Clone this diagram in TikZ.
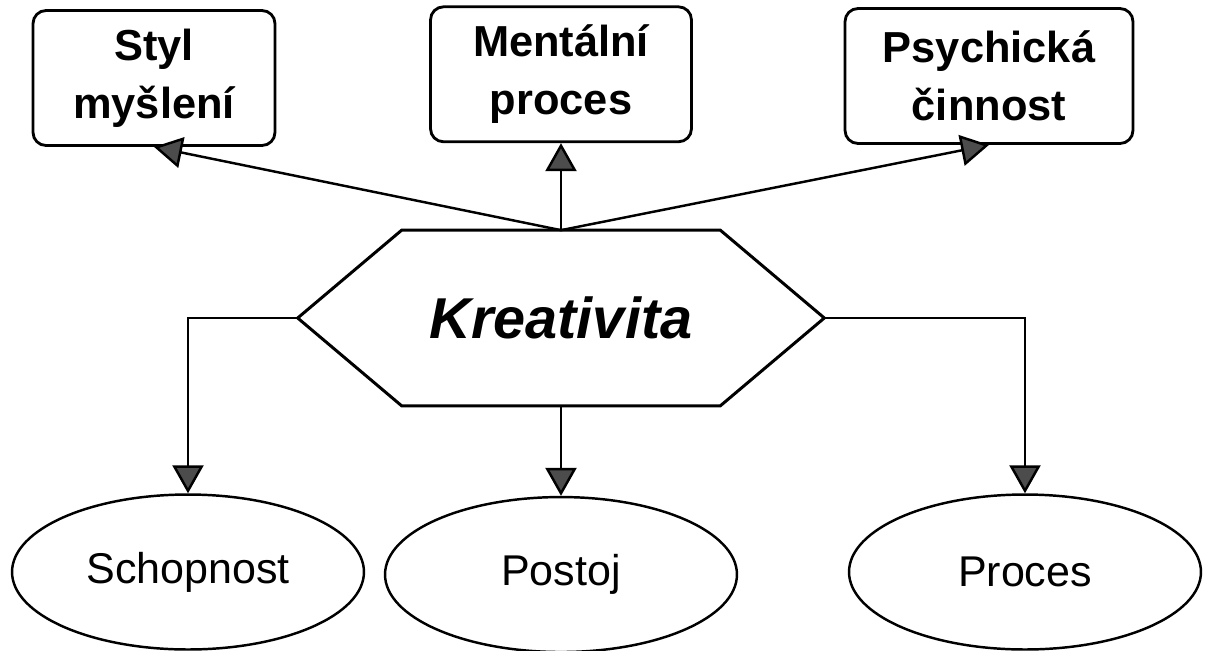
\documentclass[tikz,border=0pt]{standalone}
\usepackage{fontspec}
\setmainfont{Liberation Sans}
\usepackage{tikz}
\usetikzlibrary{positioning,arrows.meta,calc,shapes.geometric}
\tikzset{
  topbox/.style ={draw, rectangle, rounded corners=0.26cm, align=center, line width=1.6pt, minimum height=2.7cm, font=\fontsize{24.7}{33}\selectfont\bfseries},
  kind/.style   ={draw, ellipse, line width=1.4pt, minimum width=7.04cm, minimum height=3.1cm, font=\fontsize{24.5}{30}\selectfont},
  core/.style   ={rectangle, minimum width=6.36cm, minimum height=3.5cm, inner sep=0pt, font=\fontsize{32.8}{40}\selectfont\bfseries\itshape},
  hexline/.style={line width=1.7pt, line join=miter},
  arr/.style    ={-{Triangle[length=0.56cm, width=0.62cm, fill=black!70]}, line width=1.4pt},
}

\begin{document}
\begin{tikzpicture}[x=0.02cm, y=-0.02cm]
  \useasboundingbox (0,0) rectangle (1208,650);

  \node[core] (kreat) at (561,318) {Kreativita};
  \coordinate (kl) at ($(kreat.west)+(-104,0)$);
  \coordinate (kr) at ($(kreat.east)+(104,0)$);
  \draw[hexline] (kreat.north west) -- (kreat.north east) -- (kr)
    -- (kreat.south east) -- (kreat.south west) -- (kl) -- cycle;

  \node[topbox, minimum width=4.84cm] (styl) at (154,78) {Styl\\myšlení};
  \node[topbox, minimum width=5.22cm, above=1.74cm of kreat] (ment) {Mentální\\proces};
  \node[topbox, minimum width=5.76cm] (psych) at (989,76) {Psychická\\činnost};

  \node[kind] (schop) at (188,572) {Schopnost};
  \node[kind, below=1.8cm of kreat] (post) {Postoj};
  \node[kind] (proc) at (1025,572) {Proces};

  \draw[arr] (kreat.north) -- (styl.south);
  \draw[arr] (kreat.north) -- (ment.south);
  \draw[arr] (kreat.north) -- (psych.south);

  \draw[arr] (kl) -| (schop.north);
  \draw[arr] (kreat.south) -- (post.north);
  \draw[arr] (kr) -| (proc.north);
\end{tikzpicture}
\end{document}
